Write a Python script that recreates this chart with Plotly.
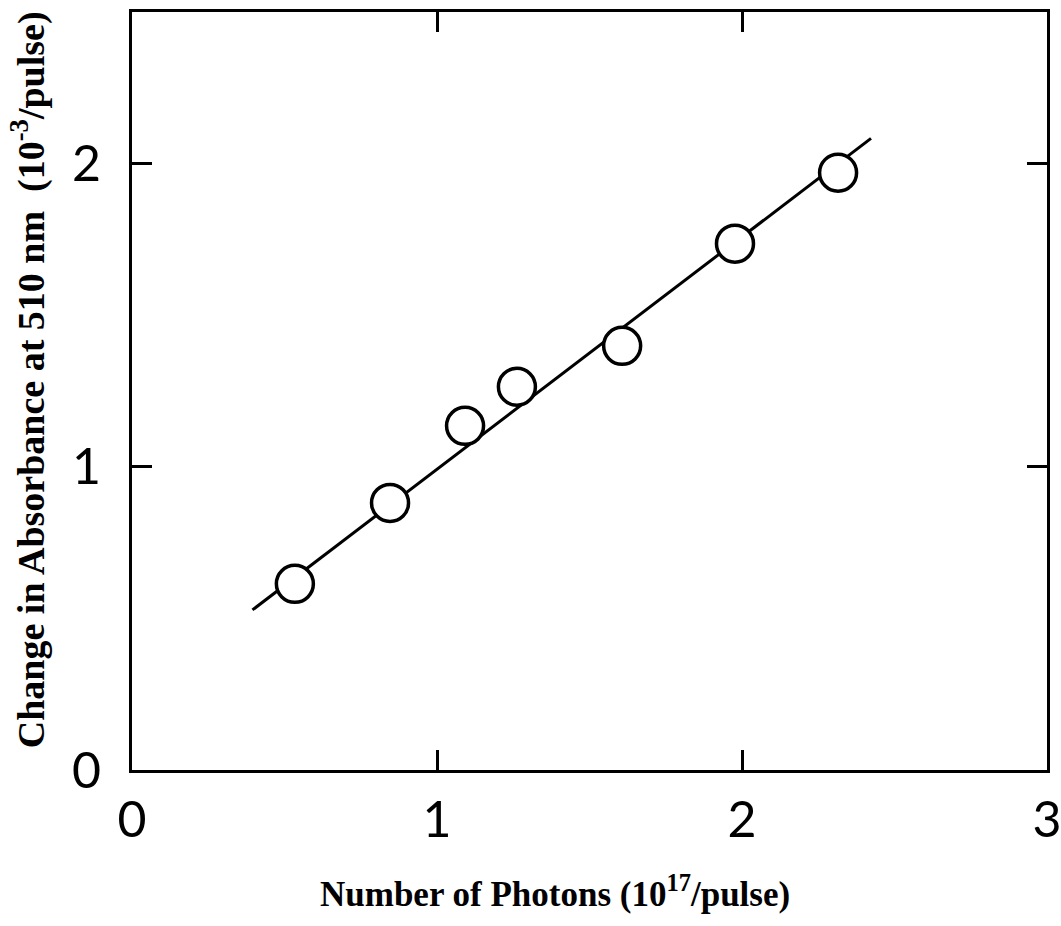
import plotly.graph_objects as go

# Measured points: photon number (1e17/pulse) vs absorbance change at 510 nm (1e-3/pulse)
photons = [0.534, 0.846, 1.092, 1.262, 1.607, 1.977, 2.315]
absorbance = [0.614, 0.881, 1.135, 1.264, 1.399, 1.736, 1.970]

# Linear fit drawn across the data range
fit_x = [0.395, 2.423]
fit_y = [0.528, 2.083]

x_ticks = [0, 1, 2, 3]
y_ticks = [0, 1, 2]

fig = go.Figure()
fig.add_trace(go.Scatter(
    x=fit_x, y=fit_y, mode="lines",
    line=dict(color="black", width=3), showlegend=False,
))
fig.add_trace(go.Scatter(
    x=photons, y=absorbance, mode="markers",
    marker=dict(symbol="circle", size=37, color="white",
                line=dict(color="black", width=3.5)),
    showlegend=False,
))

fig.update_layout(
    width=1061, height=926,
    margin=dict(l=132, r=14, t=12, b=156, autoexpand=False),
    paper_bgcolor="white", plot_bgcolor="white",
    xaxis=dict(
        range=[0, 3], tickvals=x_ticks, ticktext=[str(v) for v in x_ticks],
        showline=True, linecolor="black", linewidth=3, mirror="allticks",
        ticks="inside", ticklen=20, tickwidth=2.5, tickcolor="black",
        showgrid=False, zeroline=False, automargin=False,
        tickfont=dict(family="Lato", size=50, color="black"),
        ticklabelstandoff=4, ticklabeloverflow="allow",
    ),
    yaxis=dict(
        range=[0, 2.5], tickvals=y_ticks, ticktext=[str(v) for v in y_ticks],
        showline=True, linecolor="black", linewidth=3, mirror="allticks",
        ticks="inside", ticklen=20, tickwidth=2.5, tickcolor="black",
        showgrid=False, zeroline=False, automargin=False,
        tickfont=dict(family="Lato", size=50, color="black"),
        ticklabelstandoff=18, ticklabeloverflow="allow",
    ),
    annotations=[
        dict(text="<b>Number of Photons (10<sup>17</sup>/pulse)</b>",
             xref="paper", yref="paper", x=0.462, y=-0.16,
             xanchor="center", yanchor="middle", showarrow=False,
             font=dict(family="Liberation Serif", size=35, color="black")),
        dict(text="<b>Change in Absorbance at 510 nm  (10<sup>-3</sup>/pulse)</b>",
             xref="paper", yref="paper", x=-0.113, y=0.515,
             xanchor="center", yanchor="middle", showarrow=False,
             textangle=-90,
             font=dict(family="Liberation Serif", size=38, color="black")),
    ],
)

fig.write_html("out.html")
